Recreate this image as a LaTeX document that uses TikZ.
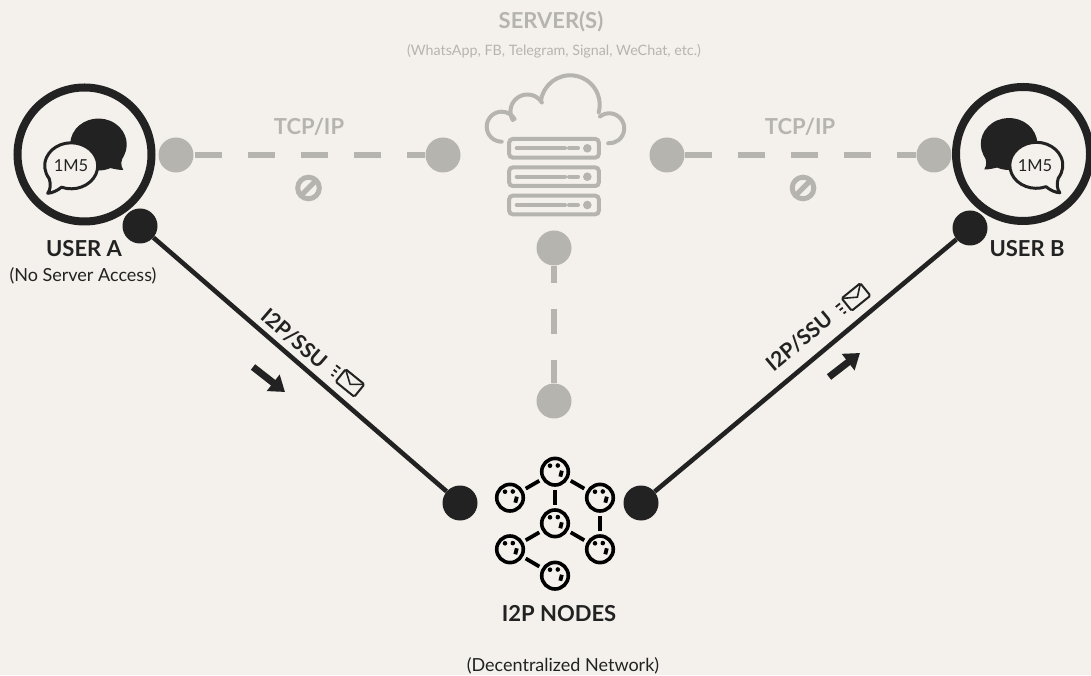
\documentclass[tikz,border=0pt]{standalone}
\usepackage{fontspec}
\setmainfont{Lato}
\usetikzlibrary{arrows.meta}
\definecolor{paper}{HTML}{F4F1EC}
\definecolor{ink}{HTML}{222222}
\definecolor{ash}{HTML}{B6B4AF}
\tikzset{
    chatpair/.pic={
        \fill[ink] (39.6,-1) arc[start angle=-25,end angle=295,x radius=28.3,y radius=26]
            .. controls (30,-14.5) and (34,-15.5) .. (38.8,-15.5) .. controls (36,-11) and (36,-6) .. cycle;
        \draw[ink,line width=3pt,fill=paper,line join=round] (-23,-32.7) arc[start angle=248.5,end angle=574,x radius=26.5,y radius=23]
            .. controls (-33.5,-30) and (-34,-35) .. (-36.8,-38.8) .. controls (-32,-38.5) and (-27,-36) .. cycle;
    },
    cloudrack/.pic={
        \begin{scope}[ash,line width=4pt,line cap=round]
            \draw (-52.3,13.3) arc[start angle=-90,end angle=-329,radius=15];
            \draw (-41.3,35) arc[start angle=210,end angle=32,radius=17];
            \draw (-13,54.3) arc[start angle=172,end angle=-15,radius=29.5];
            \draw (46,38.5) arc[start angle=128,end angle=-94,radius=15];
            \foreach \y in {6.7,-21.7,-50}{
                \draw[rounded corners=3.5pt] (-44.8,\y-9.3) rectangle (44.8,\y+9.3);
                \draw (-37.3,\y) -- (11,\y);
                \draw (15,\y) -- (24,\y);
                \fill (33.3,\y) circle (4.3);
            }
        \end{scope}
    },
    mailicon/.pic={
        \draw[ink,line width=2pt,rounded corners=1.5pt] (-12,-8) rectangle (12,8);
        \draw[ink,line width=1.6pt] (-11.5,7.5) -- (1,-1) -- (11.5,7.5);
        \draw[ink,line width=1.8pt] (-22,5) -- (-16.5,5) (-21,0) -- (-17,0) (-20,-5) -- (-17,-5);
    },
    noentry/.pic={
        \draw[ash,line width=5pt] (0,0) circle (10.8);
        \draw[ash,line width=5pt] (-7.6,-7.6) -- (7.6,7.6);
    },
}

\begin{document}
\begin{tikzpicture}[x=1pt,y=1pt,
    ring/.style={circle,draw=ink,line width=8pt,minimum size=134pt,inner sep=0pt},
    dotash/.style={circle,fill=ash,minimum size=35pt,inner sep=0pt},
    dotink/.style={circle,fill=ink,minimum size=35pt,inner sep=0pt},
    relay/.style={circle,draw=black,line width=3.6pt,minimum size=26.6pt,inner sep=0pt,outer sep=4.85pt},
    head/.style={font=\fontsize{22}{24}\selectfont\bfseries,text=ink,inner sep=0pt},
    headash/.style={head,text=ash},
    small/.style={font=\fontsize{18}{20}\selectfont,text=ink,inner sep=0pt},
    badge/.style={font=\fontsize{16.5}{18}\selectfont,text=ink,inner sep=0pt},
    slant/.style={font=\fontsize{21}{23}\selectfont\bfseries,text=ink,inner sep=0pt,sloped},
    wire/.style={ink,line width=4.6pt},
    dashline/.style={ash,line width=6pt},
    pointer/.style={ink,line width=7pt,-{Triangle[length=15pt,width=20pt]}},
    link/.style={black,line width=3.8pt},
    ]
    \useasboundingbox[fill=paper] (0,0) rectangle (1091,675);
    %
    % users
    \node[ring] (userA) at (84.5,520.5) {};
    \node[ring] (userB) at (1023,521) {};
    \pic at (userA.center) {chatpair};
    \pic[xscale=-1] at (userB.center) {chatpair};
    \node[badge] (txtA) at (71,509) {1M5};
    \node[badge] (txtB) at (1035,509) {1M5};
    \node[head] (lblA) at (84,426) {USER A};
    \node[small] (subA) at (83,399) {(No Server Access)};
    \node[head] (lblB) at (1027,426) {USER B};
    %
    % servers
    \node[headash] (lblS) at (551,653) {SERVER(S)};
    \node[small,text=ash,font=\fontsize{14.3}{16}\selectfont] (subS) at (554,624) {(WhatsApp, FB, Telegram, Signal, WeChat, etc.)};
    \pic at (554,520) {cloudrack};
    %
    \node[dotash] (gA) at (176,520) {};
    \node[dotash] (gL) at (443,520) {};
    \node[dotash] (gR) at (667,520) {};
    \node[dotash] (gB) at (934,520) {};
    \node[dotash] (gT) at (554,427) {};
    \node[dotash] (gN) at (554,274) {};
    \draw[dashline,dash pattern=on 27pt off 26pt,dash phase=51.5pt] (gA) -- (gL);
    \draw[dashline,dash pattern=on 27pt off 26pt] (gR) -- (gB);
    \draw[dashline,dash pattern=on 25pt off 26pt,dash phase=7.5pt] (gT) -- (gN);
    %
    \node[headash] (tcpL) at (309,548) {TCP/IP};
    \node[headash] (tcpR) at (800,548) {TCP/IP};
    \pic at (308.5,487) {noentry};
    \pic at (803,487) {noentry};
    %
    % i2p
    \node[dotink] (dA) at (140,449) {};
    \node[dotink] (dB) at (970,447) {};
    \node[dotink] (nL) at (460,172) {};
    \node[dotink] (nR) at (641,172) {};
    \draw[wire] (dA) -- node[pos=.445,above=5pt,slant] (lblL) {I2P/SSU} (nL);
    \draw[wire] (nR) -- node[pos=.527,above=12pt,slant] (lblR) {I2P/SSU} (dB);
    \pic[rotate=-39] at (350,292) {mailicon};
    \pic[rotate=39] at (856,378) {mailicon};
    %
    \coordinate (arrA1) at (253,308);
    \coordinate (arrA2) at (285,283);
    \coordinate (arrB1) at (829,298);
    \coordinate (arrB2) at (860,322);
    \draw[pointer] (arrA1) -- (arrA2);
    \draw[pointer] (arrB1) -- (arrB2);
    %
    % network
    \foreach \name/\px/\py in {r1/555/203.3,r2/510/177.3,r3/600/177.3,r4/555/151.7,r5/510/125.7,r6/600/125.7,r7/555/99.3}{
        \node[relay] (\name) at (\px,\py) {};
        \fill[black] ([shift={(-5,6)}]\px,\py) circle (2.3);
        \fill[black] ([shift={(2.8,6.2)}]\px,\py) circle (2.3);
        \draw[black,line width=3.8pt] ([shift={(6.8,1)}]\px,\py) -- ([shift={(5.3,-5)}]\px,\py);
    }
    \draw[link] (r1) -- (r2);
    \draw[link] (r1) -- (r3);
    \draw[link] (r1) -- (r4);
    \draw[link] (r3) -- (r6);
    \draw[link] (r4) -- (r5);
    \draw[link] (r4) -- (r6);
    \draw[link] (r5) -- (r7);
    %
    \node[head] (lblN) at (559,61) {I2P NODES};
    \node[small] (subN) at (563,9) {(Decentralized Network)};
\end{tikzpicture}
\end{document}
